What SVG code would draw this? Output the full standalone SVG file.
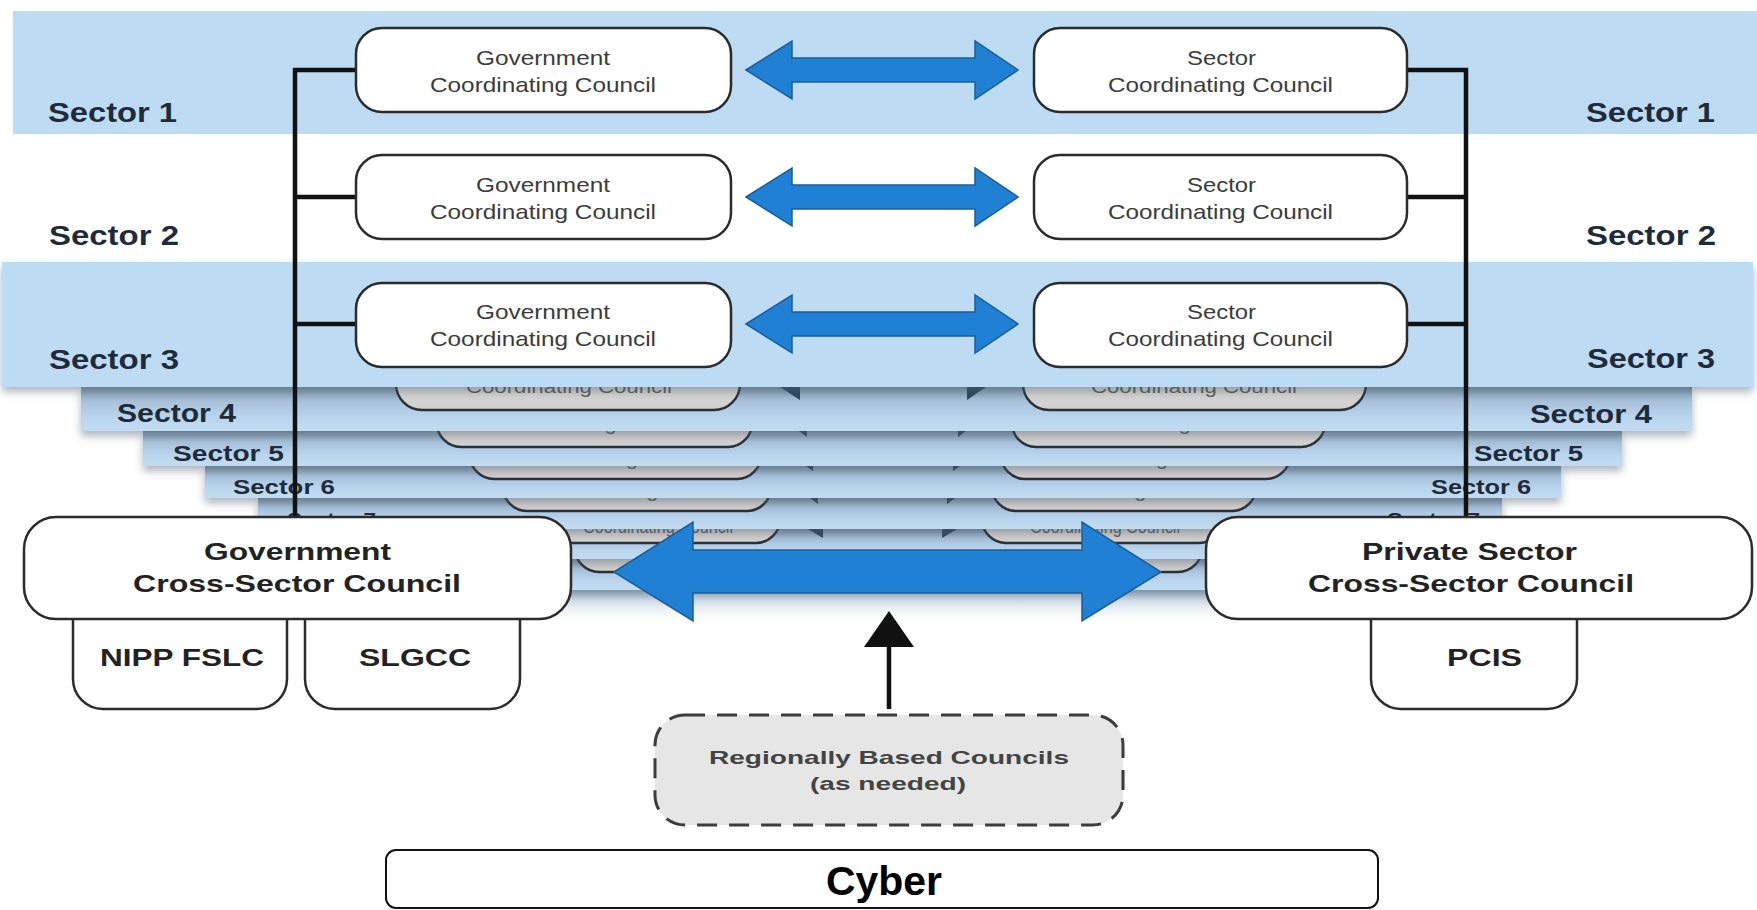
<svg xmlns="http://www.w3.org/2000/svg" width="1757" height="910" viewBox="0 0 1757 910">
<defs>
<style>
.front{fill:#bddcf4}
.back{fill:url(#bandg)}
.lbl{font-family:"Liberation Sans",Arial,sans-serif;font-weight:bold;fill:#1f2b3a}
.cc{font-family:"Liberation Sans",Arial,sans-serif;font-size:21px;fill:#3b3b3b}
.gt{font-family:"Liberation Sans",Arial,sans-serif;font-size:19px;fill:#5a5a5a}
.box{fill:#ffffff;stroke:#2b2b2b;stroke-width:2.5}
.gbox{fill:url(#greyg);stroke:#2a3038;stroke-width:2.5}
.bt{font-family:"Liberation Sans",Arial,sans-serif;font-weight:bold;fill:#222222}
.conn{stroke:#111111;stroke-width:4.5;fill:none}
.arr{fill:#1f80d4;stroke:#1a5d9c;stroke-width:1.5}
.tri{fill:#2a4560}
</style>
<linearGradient id="bandg" x1="0" y1="0" x2="0" y2="1">
<stop offset="0" stop-color="#7d95ab"/>
<stop offset="0.3" stop-color="#a6c0d8"/>
<stop offset="0.7" stop-color="#bad6ee"/>
<stop offset="1" stop-color="#c1dcf2"/>
</linearGradient>
<linearGradient id="fadeg" x1="0" y1="0" x2="0" y2="1">
<stop offset="0" stop-color="#a3bcd2"/>
<stop offset="1" stop-color="#ffffff" stop-opacity="0"/>
</linearGradient>
<linearGradient id="greyg" x1="0" y1="0" x2="0" y2="1">
<stop offset="0" stop-color="#e6e4e2"/>
<stop offset="1" stop-color="#d2d0ce"/>
</linearGradient>
<filter id="sh" x="-5%" y="-30%" width="110%" height="180%">
<feDropShadow dx="0" dy="5" stdDeviation="4" flood-color="#4a5a6a" flood-opacity="0.45"/>
</filter>
<marker id="up" viewBox="0 0 36 50" markerWidth="36" markerHeight="50" refX="22" refY="25" orient="auto" markerUnits="userSpaceOnUse">
<path d="M0,0 L36,25 L0,50 Z" fill="#111111"/>
</marker>
</defs>

<rect width="1757" height="910" fill="#ffffff"/>

<g id="bands">
<rect class="front" x="13" y="11" width="1744" height="123"/>

<!-- band 9 -->
<g id="band9">
<rect x="360" y="590" width="1040" height="36" fill="url(#fadeg)"/>
<rect class="back" x="350" y="559" width="1060" height="31" filter="url(#sh)"/>
<rect class="gbox" x="575" y="512" width="235" height="60" rx="24"/>
<rect class="gbox" x="975" y="512" width="227" height="60" rx="24"/>
</g>
<!-- band 8 -->
<g id="band8">
<rect class="back" x="310" y="529" width="1135" height="30" filter="url(#sh)"/>
<rect class="gbox" x="544" y="483" width="236" height="60" rx="24"/>
<rect class="gbox" x="982" y="483" width="241" height="60" rx="24"/>
<text class="gt" x="583" y="533" textLength="150" lengthAdjust="spacingAndGlyphs">Coordinating Council</text>
<text class="gt" x="1030" y="533" textLength="150" lengthAdjust="spacingAndGlyphs">Coordinating Council</text>
<polygon class="tri" points="808,529 823,529 823,538"/>
<polygon class="tri" points="942,529 957,529 942,538"/>
</g>
<!-- band 7 -->
<g id="band7">
<rect class="back" x="258" y="498" width="1244" height="31" filter="url(#sh)"/>
<rect class="gbox" x="503" y="451" width="268" height="60" rx="24"/>
<rect class="gbox" x="992" y="451" width="264" height="60" rx="24"/>
<text class="gt" x="536" y="497" textLength="200" lengthAdjust="spacingAndGlyphs">Coordinating Council</text>
<text class="gt" x="1024" y="497" textLength="200" lengthAdjust="spacingAndGlyphs">Coordinating Council</text>
<polygon class="tri" points="810,498 818,498 818,504"/>
<polygon class="tri" points="947,498 955,498 947,504"/>
<text class="lbl" x="287" y="526" font-size="19" textLength="89" lengthAdjust="spacingAndGlyphs">Sector 7</text>
<text class="lbl" x="1387" y="526" font-size="19" textLength="93" lengthAdjust="spacingAndGlyphs">Sector 7</text>
</g>
<!-- band 6 -->
<g id="band6">
<rect class="back" x="205" y="466" width="1356" height="32" filter="url(#sh)"/>
<rect class="gbox" x="470" y="419" width="291" height="60" rx="24"/>
<rect class="gbox" x="1001" y="419" width="289" height="60" rx="24"/>
<text class="gt" x="514" y="465" textLength="203" lengthAdjust="spacingAndGlyphs">Coordinating Council</text>
<text class="gt" x="1044" y="465" textLength="203" lengthAdjust="spacingAndGlyphs">Coordinating Council</text>
<polygon class="tri" points="806,466 813,466 813,471"/>
<polygon class="tri" points="953,466 960,466 953,471"/>
<text class="lbl" x="233" y="494" font-size="21" textLength="102" lengthAdjust="spacingAndGlyphs">Sector 6</text>
<text class="lbl" x="1431" y="494" font-size="21" textLength="100" lengthAdjust="spacingAndGlyphs">Sector 6</text>
</g>
<!-- band 5 -->
<g id="band5">
<rect class="back" x="143" y="431" width="1479" height="35" filter="url(#sh)"/>
<rect class="gbox" x="437" y="387" width="315" height="60" rx="24"/>
<rect class="gbox" x="1012" y="387" width="313" height="60" rx="24"/>
<text class="gt" x="492" y="430" textLength="204" lengthAdjust="spacingAndGlyphs">Coordinating Council</text>
<text class="gt" x="1066" y="430" textLength="204" lengthAdjust="spacingAndGlyphs">Coordinating Council</text>
<polygon class="tri" points="799,431 807,431 807,437"/>
<polygon class="tri" points="958,431 966,431 958,437"/>
<text class="lbl" x="173" y="461" font-size="22" textLength="111" lengthAdjust="spacingAndGlyphs">Sector 5</text>
<text class="lbl" x="1474" y="461" font-size="22" textLength="109" lengthAdjust="spacingAndGlyphs">Sector 5</text>
</g>
<!-- band 4 -->
<g id="band4">
<rect class="back" x="81" y="387" width="1611" height="44" filter="url(#sh)"/>
<rect class="gbox" x="396" y="350" width="344" height="60" rx="26"/>
<rect class="gbox" x="1023" y="350" width="343" height="60" rx="26"/>
<text class="gt" x="466" y="393" textLength="206" lengthAdjust="spacingAndGlyphs">Coordinating Council</text>
<text class="gt" x="1091" y="393" textLength="206" lengthAdjust="spacingAndGlyphs">Coordinating Council</text>
<polygon class="tri" points="780,387 800,387 800,400"/>
<polygon class="tri" points="967,387 986,387 967,400"/>
<text class="lbl" x="117" y="422" font-size="25" textLength="119" lengthAdjust="spacingAndGlyphs">Sector 4</text>
<text class="lbl" x="1530" y="423" font-size="25" textLength="122" lengthAdjust="spacingAndGlyphs">Sector 4</text>
</g>
<!-- band 3 -->
<rect class="front" x="2" y="262" width="1751" height="125" filter="url(#sh)"/>

<text class="lbl" x="48" y="122" font-size="27" textLength="129" lengthAdjust="spacingAndGlyphs">Sector 1</text>
<text class="lbl" x="1586" y="122" font-size="27" textLength="129" lengthAdjust="spacingAndGlyphs">Sector 1</text>
<text class="lbl" x="49" y="245" font-size="27" textLength="130" lengthAdjust="spacingAndGlyphs">Sector 2</text>
<text class="lbl" x="1586" y="245" font-size="27" textLength="130" lengthAdjust="spacingAndGlyphs">Sector 2</text>
<text class="lbl" x="49" y="369" font-size="27" textLength="130" lengthAdjust="spacingAndGlyphs">Sector 3</text>
<text class="lbl" x="1587" y="368" font-size="27" textLength="128" lengthAdjust="spacingAndGlyphs">Sector 3</text>
</g>

<g id="connectors">
<path class="conn" d="M356,70 H295 V518 M295,197 H356 M295,324 H356"/>
<path class="conn" d="M1407,70 H1466 V518 M1466,197 H1407 M1466,324 H1407"/>
<polygon class="arr" points="746,70 792,41 792,58 975,58 975,41 1018,70 975,99 975,82 792,82 792,99"/>
<polygon class="arr" points="746,197 792,168 792,185 975,185 975,168 1018,197 975,226 975,209 792,209 792,226"/>
<polygon class="arr" points="746,324 792,295 792,312 975,312 975,295 1018,324 975,353 975,336 792,336 792,353"/>
<polygon class="arr" points="614,572 693,522 693,550 1082,550 1082,522 1161,572 1082,621 1082,593 693,593 693,621"/>
<line x1="889" y1="709" x2="889" y2="625" stroke="#111111" stroke-width="4.5" marker-end="url(#up)"/>
</g>

<g id="gcc1"><rect class="box" x="356" y="28" width="375" height="84" rx="26"/>
<text class="cc" x="476" y="65" textLength="134" lengthAdjust="spacingAndGlyphs">Government</text>
<text class="cc" x="430" y="92" textLength="226" lengthAdjust="spacingAndGlyphs">Coordinating Council</text></g>
<g id="gcc2"><rect class="box" x="356" y="155" width="375" height="84" rx="26"/>
<text class="cc" x="476" y="192" textLength="134" lengthAdjust="spacingAndGlyphs">Government</text>
<text class="cc" x="430" y="219" textLength="226" lengthAdjust="spacingAndGlyphs">Coordinating Council</text></g>
<g id="gcc3"><rect class="box" x="356" y="283" width="375" height="84" rx="26"/>
<text class="cc" x="476" y="319" textLength="134" lengthAdjust="spacingAndGlyphs">Government</text>
<text class="cc" x="430" y="346" textLength="226" lengthAdjust="spacingAndGlyphs">Coordinating Council</text></g>

<g id="scc1"><rect class="box" x="1034" y="28" width="373" height="84" rx="26"/>
<text class="cc" x="1187" y="65" textLength="69" lengthAdjust="spacingAndGlyphs">Sector</text>
<text class="cc" x="1108" y="92" textLength="225" lengthAdjust="spacingAndGlyphs">Coordinating Council</text></g>
<g id="scc2"><rect class="box" x="1034" y="155" width="373" height="84" rx="26"/>
<text class="cc" x="1187" y="192" textLength="69" lengthAdjust="spacingAndGlyphs">Sector</text>
<text class="cc" x="1108" y="219" textLength="225" lengthAdjust="spacingAndGlyphs">Coordinating Council</text></g>
<g id="scc3"><rect class="box" x="1034" y="283" width="373" height="84" rx="26"/>
<text class="cc" x="1187" y="319" textLength="69" lengthAdjust="spacingAndGlyphs">Sector</text>
<text class="cc" x="1108" y="346" textLength="225" lengthAdjust="spacingAndGlyphs">Coordinating Council</text></g>

<g id="nipp"><rect class="box" x="73" y="580" width="214" height="129" rx="30"/>
<text class="bt" x="100" y="666" font-size="24" textLength="164" lengthAdjust="spacingAndGlyphs">NIPP FSLC</text></g>
<g id="slgcc"><rect class="box" x="305" y="580" width="215" height="129" rx="30"/>
<text class="bt" x="359" y="666" font-size="24" textLength="112" lengthAdjust="spacingAndGlyphs">SLGCC</text></g>
<g id="pcis"><rect class="box" x="1371" y="580" width="206" height="129" rx="30"/>
<text class="bt" x="1447" y="666" font-size="24" textLength="75" lengthAdjust="spacingAndGlyphs">PCIS</text></g>

<g id="gov-cross"><rect class="box" x="24" y="517" width="547" height="102" rx="32"/>
<text class="bt" x="204" y="560" font-size="24" textLength="187" lengthAdjust="spacingAndGlyphs">Government</text>
<text class="bt" x="133" y="592" font-size="24" textLength="328" lengthAdjust="spacingAndGlyphs">Cross-Sector Council</text></g>
<g id="priv-cross"><rect class="box" x="1206" y="517" width="546" height="102" rx="32"/>
<text class="bt" x="1362" y="560" font-size="24" textLength="215" lengthAdjust="spacingAndGlyphs">Private Sector</text>
<text class="bt" x="1308" y="592" font-size="24" textLength="326" lengthAdjust="spacingAndGlyphs">Cross-Sector Council</text></g>

<g id="regional"><rect x="655" y="715" width="468" height="110" rx="30" fill="#e6e6e6" stroke="#3d3d3d" stroke-width="3" stroke-dasharray="20 12"/>
<text class="bt" x="709" y="764" font-size="19" fill="#444444" style="fill:#444444" textLength="360" lengthAdjust="spacingAndGlyphs">Regionally Based Councils</text>
<text class="bt" x="810" y="790" font-size="19" style="fill:#444444" textLength="156" lengthAdjust="spacingAndGlyphs">(as needed)</text></g>

<g id="cyber"><rect x="386" y="850" width="992" height="58" rx="10" fill="#ffffff" stroke="#111111" stroke-width="2"/>
<text class="bt" x="826" y="895" font-size="40" style="fill:#000000" textLength="116" lengthAdjust="spacingAndGlyphs">Cyber</text></g>
</svg>
